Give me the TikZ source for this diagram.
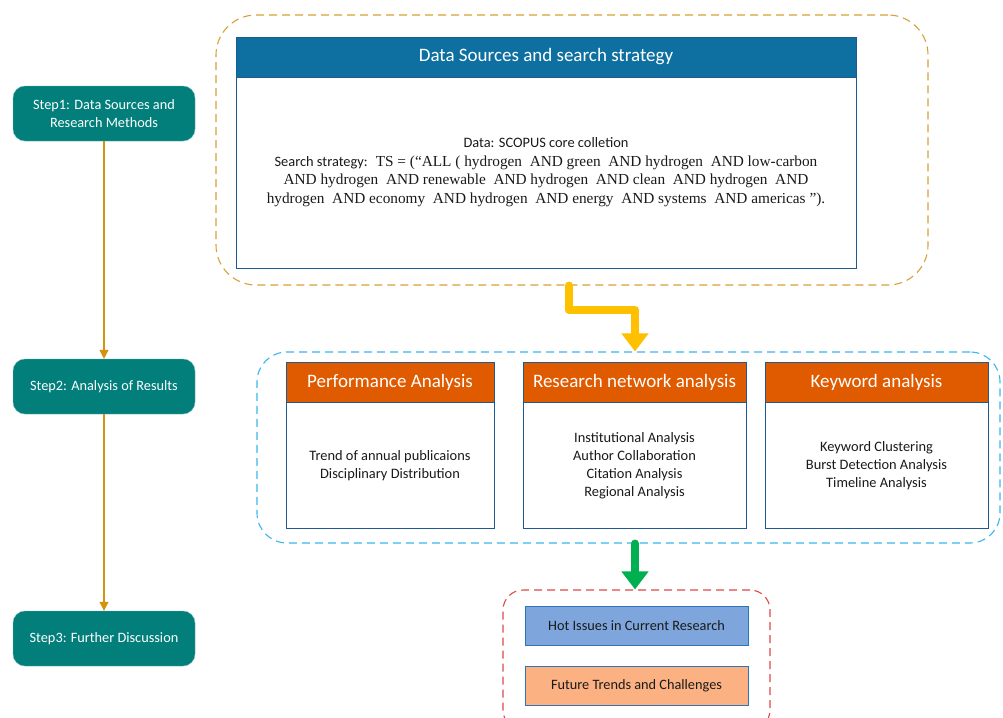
\documentclass[tikz,border=0pt]{standalone}
\usepackage{fontspec}
\setmainfont{Carlito}
\newfontfamily\tms{Liberation Serif}
\usetikzlibrary{arrows.meta,positioning}
\definecolor{teal1}{HTML}{027F7B}
\definecolor{gold1}{HTML}{D9A13A}
\definecolor{stepline}{HTML}{D4930D}
\definecolor{hdrblue}{HTML}{0E6FA1}
\definecolor{bodyblue}{HTML}{1F5A8F}
\definecolor{hdrorange}{HTML}{E05A00}
\definecolor{dashblue}{HTML}{3BB6EE}
\definecolor{dashred}{HTML}{E04848}
\definecolor{yel}{HTML}{FFC000}
\definecolor{grn}{HTML}{00B050}
\definecolor{hotfill}{HTML}{7EA6DC}
\definecolor{futfill}{HTML}{FBB182}
\definecolor{boxedge}{HTML}{2E75B6}
\definecolor{txt}{HTML}{1A1A1A}
\tikzset{
  stepbox/.style={draw=teal1!60!white, fill=teal1, rounded corners=12pt, minimum width=182pt, minimum height=55pt, text=white, align=center, font=\fontsize{14.3}{18.5}\selectfont, inner sep=0pt},
  container/.style={dashed, dash pattern=on 8pt off 5pt, line width=1.1pt, inner sep=0pt},
  hdr/.style={draw=bodyblue, line width=0.6pt, text=white, inner sep=0pt, font=\fontsize{19}{22}\selectfont},
  bodybox/.style={draw=bodyblue, line width=0.8pt, fill=white, inner sep=0pt, text=txt, align=center, font=\fontsize{14.4}{18.3}\selectfont},
  resbox/.style={draw=boxedge, line width=0.8pt, inner sep=0pt, minimum width=223pt, minimum height=39pt, text=txt, font=\fontsize{14.3}{16}\selectfont},
  steparrow/.style={draw=stepline, line width=1.2pt, -{Triangle[length=9pt,width=9pt]}},
  fatarrow/.style={line width=8pt, line join=round, line cap=round, -{Triangle[length=18pt,width=26pt]}}
}
\begin{document}
\begin{tikzpicture}[x=1pt,y=-1pt]
\clip (0,0) rectangle (1003,717);
\fill[white] (0,0) rectangle (1003,717);

% steps
\node[stepbox] (s1) at (104,113.5) {Step1: Data Sources and\\Research Methods};
\node[stepbox] (s2) at (104,386.5) {Step2: Analysis of Results};
\node[stepbox] (s3) at (104,638.5) {Step3: Further Discussion};
\draw[steparrow] (s1) -- (s2);
\draw[steparrow] (s2) -- (s3);

% containers
\node[container, draw=gold1, rounded corners=40pt, minimum width=712pt, minimum height=270pt] (c1) at (572,150) {};
\node[container, draw=dashblue, rounded corners=30pt, minimum width=743pt, minimum height=191pt] (c2) at (628.5,447.5) {};
\node[container, draw=dashred, rounded corners=20pt, minimum width=267pt, minimum height=140pt] (c3) at (636.5,660) {};

% data sources
\node[hdr, fill=hdrblue, minimum width=620pt, minimum height=40pt] (dh) at (546,57) {Data Sources and search strategy};
\node[bodybox, minimum width=620pt, minimum height=191pt, anchor=north] (db) at (dh.south) {};
\node[text=txt, align=center, font=\fontsize{15.3}{18.7}\selectfont, inner sep=0pt] (dt) at (546,172) {%
{\fontsize{14.4}{18.7}\selectfont Data: SCOPUS core colletion}\\
{\fontsize{14.4}{18.7}\selectfont Search strategy:}~ {\tms TS = (“ALL ( hydrogen~ AND green~ AND hydrogen~ AND low-carbon}\\
{\tms AND hydrogen~ AND renewable~ AND hydrogen~ AND clean~ AND hydrogen~ AND}\\
{\tms hydrogen~ AND economy~ AND hydrogen~ AND energy~ AND systems~ AND americas ”).}};

% analysis boxes
\node[hdr, fill=hdrorange, minimum width=208pt, minimum height=40pt] (ph) at (390,382) {Performance Analysis};
\node[bodybox, minimum width=208pt, minimum height=126pt, anchor=north] (pb) at (ph.south) {Trend of annual publicaions\\Disciplinary Distribution};
\node[hdr, fill=hdrorange, minimum width=223pt, minimum height=40pt] (nh) at (634.5,382) {Research network analysis};
\node[bodybox, minimum width=223pt, minimum height=126pt, anchor=north] (nb) at (nh.south) {Institutional Analysis\\Author Collaboration\\Citation Analysis\\Regional Analysis};
\node[hdr, fill=hdrorange, minimum width=223pt, minimum height=40pt] (kh) at (876.5,382) {Keyword analysis};
\node[bodybox, minimum width=223pt, minimum height=126pt, anchor=north] (kb) at (kh.south) {Keyword Clustering\\Burst Detection Analysis\\Timeline Analysis};

% discussion boxes
\node[resbox, fill=hotfill] (hot) at (636.5,625.5) {Hot Issues in Current Research};
\node[resbox, fill=futfill] (fut) at (636.5,686) {Future Trends and Challenges};

% fat arrows
\coordinate (y0) at (c1.south -| 569,0);
\coordinate (y1) at (569,310);
\coordinate (y2) at (635,310);
\coordinate (y3) at (c2.north -| 635,0);
\draw[fatarrow, yel] (y0) -- (y1) -- (y2) -- (y3);
\coordinate (g0) at (c2.south -| 635,0);
\coordinate (g1) at (c3.north -| 635,0);
\draw[fatarrow, grn] (g0) -- (g1);
\end{tikzpicture}
\end{document}
